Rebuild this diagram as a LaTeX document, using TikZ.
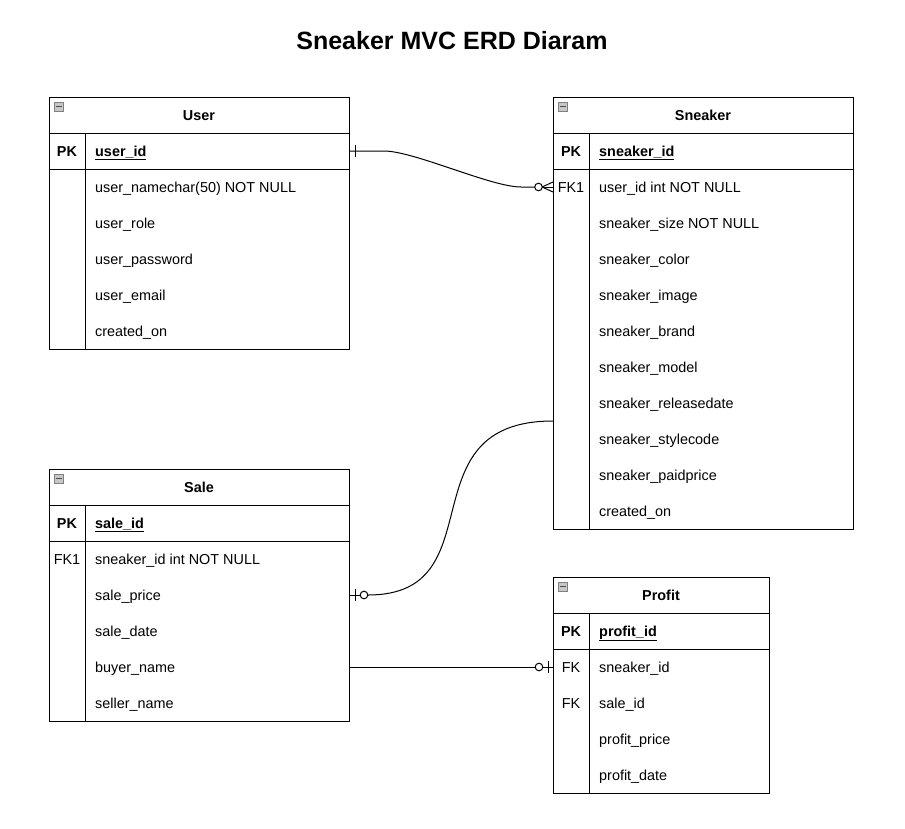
\documentclass[tikz,border=0pt]{standalone}
\usepackage{fontspec}
\setmainfont{Liberation Sans}
\usetikzlibrary{calc}
\begin{document}
\begin{tikzpicture}[x=1pt,y=-1pt,
  ln/.style={line width=1pt, draw=black},
  tbl/.style={ln, inner sep=0pt, anchor=north west, fill=white},
  fld/.style={anchor=west, inner sep=0pt, text height=10.3pt, text depth=0pt, font=\fontsize{14.4}{17}\selectfont},
  key/.style={fld, anchor=center},
  hdr/.style={fld, anchor=center, font=\bfseries\fontsize{14.4}{17}\selectfont},
  icon/.style={draw=black!50, fill=black!22, line width=0.6pt, minimum size=9pt, inner sep=0pt, anchor=north west},
  minus/.style={line width=1pt, draw=black!70},
  ring/.style={ln, fill=white}
]
\useasboundingbox (0,0) rectangle (905,828);

\node[font=\bfseries\fontsize{25}{30}\selectfont, inner sep=0pt, text height=18pt, text depth=0pt] (title) at (452,40) {Sneaker MVC ERD Diaram};

% ---------- User ----------
\node[tbl, minimum width=300pt, minimum height=252pt] (user) at (49,97) {};
\draw[ln] ($(user.north west)+(0,36)$) -- ++(300,0);
\draw[ln] ($(user.north west)+(0,72)$) -- ++(300,0);
\draw[ln] ($(user.north west)+(36,36)$) -- ++(0,216);
\node[icon] (usericon) at ($(user.north west)+(5,5)$) {};
\draw[minus] ($(usericon.west)+(2,0)$) -- ($(usericon.east)+(-2,0)$);
\node[hdr] (usert) at (199,115) {User};
\node[key] (uk0) at (67,151) {\textbf{PK}};
\node[fld] (uf0) at (95,151) {\textbf{\underline{user\_id}}};
\foreach \t [count=\i] in {{user\_namechar(50) NOT NULL},{user\_role},{user\_password},{user\_email},{created\_on}}
  \node[fld] (uf\i) at (95,{151+36*\i}) {\t};

% ---------- Sneaker ----------
\node[tbl, minimum width=300pt, minimum height=432pt] (sneaker) at (553,97) {};
\draw[ln] ($(sneaker.north west)+(0,36)$) -- ++(300,0);
\draw[ln] ($(sneaker.north west)+(0,72)$) -- ++(300,0);
\draw[ln] ($(sneaker.north west)+(36,36)$) -- ++(0,396);
\node[icon] (snicon) at ($(sneaker.north west)+(5,5)$) {};
\draw[minus] ($(snicon.west)+(2,0)$) -- ($(snicon.east)+(-2,0)$);
\node[hdr] (snt) at (703,115) {Sneaker};
\node[key] (sk0) at (571,151) {\textbf{PK}};
\node[fld] (sf0) at (599,151) {\textbf{\underline{sneaker\_id}}};
\node[key] (sk1) at (571,187) {FK1};
\foreach \t [count=\i] in {{user\_id int NOT NULL},{sneaker\_size NOT NULL},{sneaker\_color},{sneaker\_image},{sneaker\_brand},{sneaker\_model},{sneaker\_releasedate},{sneaker\_stylecode},{sneaker\_paidprice},{created\_on}}
  \node[fld] (sf\i) at (599,{151+36*\i}) {\t};

% ---------- Sale ----------
\node[tbl, minimum width=300pt, minimum height=252pt] (sale) at (49,469) {};
\draw[ln] ($(sale.north west)+(0,36)$) -- ++(300,0);
\draw[ln] ($(sale.north west)+(0,72)$) -- ++(300,0);
\draw[ln] ($(sale.north west)+(36,36)$) -- ++(0,216);
\node[icon] (saicon) at ($(sale.north west)+(5,5)$) {};
\draw[minus] ($(saicon.west)+(2,0)$) -- ($(saicon.east)+(-2,0)$);
\node[hdr] (sat) at (199,487) {Sale};
\node[key] (sak0) at (67,523) {\textbf{PK}};
\node[fld] (sa0) at (95,523) {\textbf{\underline{sale\_id}}};
\node[key] (sak1) at (67,559) {FK1};
\foreach \t [count=\i] in {{sneaker\_id int NOT NULL},{sale\_price},{sale\_date},{buyer\_name},{seller\_name}}
  \node[fld] (sa\i) at (95,{523+36*\i}) {\t};

% ---------- Profit ----------
\node[tbl, minimum width=216pt, minimum height=216pt] (profit) at (553,577) {};
\draw[ln] ($(profit.north west)+(0,36)$) -- ++(216,0);
\draw[ln] ($(profit.north west)+(0,72)$) -- ++(216,0);
\draw[ln] ($(profit.north west)+(36,36)$) -- ++(0,180);
\node[icon] (pricon) at ($(profit.north west)+(5,5)$) {};
\draw[minus] ($(pricon.west)+(2,0)$) -- ($(pricon.east)+(-2,0)$);
\node[hdr] (prt) at (661,595) {Profit};
\node[key] (pk0) at (571,631) {\textbf{PK}};
\node[fld] (pf0) at (599,631) {\textbf{\underline{profit\_id}}};
\node[key] (pk1) at (571,667) {FK};
\node[key] (pk2) at (571,703) {FK};
\foreach \t [count=\i] in {{sneaker\_id},{sale\_id},{profit\_price},{profit\_date}}
  \node[fld] (pf\i) at (599,{631+36*\i}) {\t};

% ---------- User -> Sneaker (one to zero-or-many) ----------
\coordinate (a1) at (user.east |- uf0);
\coordinate (b1) at (sneaker.west |- sf1);
\draw[ln] (a1) -- ($(a1)+(34,0)$) .. controls +(30,0) and +(-30,0) .. ($(b1)+(-32,0)$) -- ($(b1)+(-18,0)$);
\draw[ln] ($(a1)+(5,-6)$) -- ($(a1)+(5,6)$);
\draw[ln] ($(b1)+(-11,0)$) -- (b1);
\draw[ln] ($(b1)+(-11,0)$) -- ($(b1)+(0,-5)$);
\draw[ln] ($(b1)+(-11,0)$) -- ($(b1)+(0,5)$);
\draw[ring] ($(b1)+(-14.5,0)$) circle (3.8);

% ---------- Sneaker -> Sale (zero or one) ----------
\coordinate (m78) at ($(sf7)!0.5!(sf8)$);
\coordinate (a2) at (sneaker.west |- m78);
\coordinate (b2) at (sale.east |- sa2);
\draw[ln] (a2) .. controls +(-150,0) and +(130,0) .. ($(b2)+(18,0)$);
\draw[ln] (b2) -- ($(b2)+(10,0)$);
\draw[ln] ($(b2)+(5,-6)$) -- ($(b2)+(5,6)$);
\draw[ring] ($(b2)+(14,0)$) circle (3.8);

% ---------- Sale -> Profit (zero or one) ----------
\coordinate (a3) at (sale.east |- sa4);
\coordinate (b3) at (profit.west |- pf1);
\draw[ln] (a3) -- ($(b3)+(-18,0)$);
\draw[ln] ($(b3)+(-10,0)$) -- (b3);
\draw[ln] ($(b3)+(-5,-6)$) -- ($(b3)+(-5,6)$);
\draw[ring] ($(b3)+(-14,0)$) circle (3.8);
\end{tikzpicture}
\end{document}
